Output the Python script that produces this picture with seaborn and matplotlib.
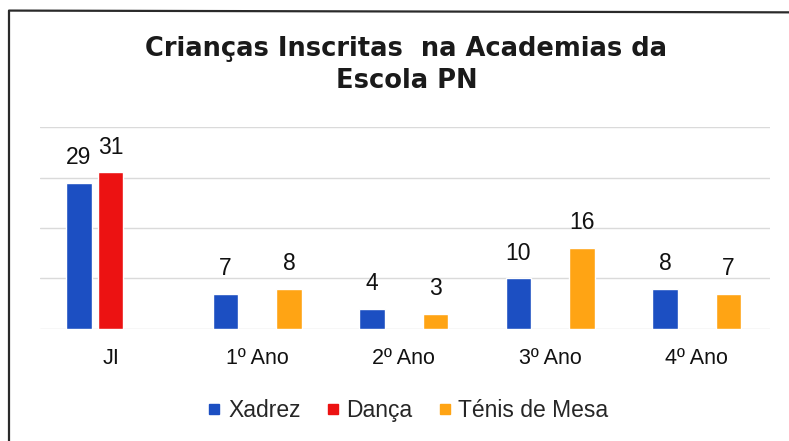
import pandas as pd
import matplotlib.pyplot as plt
import seaborn as sns
from matplotlib.lines import Line2D

sns.set_theme(style="white")
plt.rcParams['font.family'] = ['Liberation Sans', 'DejaVu Sans']

# --- data ---
anos = ['JI', '1º Ano', '2º Ano', '3º Ano', '4º Ano']
academias = ['Xadrez', 'Dança', 'Ténis de Mesa']
xadrez = [29, 7, 4, 10, 8]
danca = [31, None, None, None, None]
tenis = [None, 8, 3, 16, 7]

cores = ['#1C4FC2', '#EC1212', '#FFA414']

rows = []
for serie, vals in zip(academias, [xadrez, danca, tenis]):
    for ano, v in zip(anos, vals):
        if v is not None:
            rows.append({'ano': ano, 'academia': serie, 'n': v})
df = pd.DataFrame(rows)

fig = plt.figure(figsize=(7.89, 4.41), dpi=100)
ax = fig.add_axes([0.051, 0.254, 0.925, 0.458])

sns.barplot(data=df, x='ano', y='n', hue='academia', order=anos,
            hue_order=academias, palette=cores, width=0.65, gap=0.2,
            saturation=1, legend=False, ax=ax)

for c in ax.containers:
    ax.bar_label(c, fmt='%d', padding=10, fontsize=16.5, color='#111111')

ax.set_ylim(0, 40)
ax.set_xlim(-0.48, 4.5)
ax.set_yticks([0, 10, 20, 30, 40])
ax.yaxis.grid(True, color='#DADADA', linewidth=1)
ax.set_axisbelow(True)
ax.tick_params(axis='y', left=False, labelleft=False)
ax.tick_params(axis='x', length=0, pad=14, labelsize=15.5, colors='#111111')
ax.set_xlabel('')
ax.set_ylabel('')
for s in ax.spines.values():
    s.set_visible(False)

fig.text(0.515, 0.853, 'Crianças Inscritas  na Academias da\nEscola PN',
         ha='center', va='center', fontsize=18.5, fontweight='bold',
         family='DejaVu Sans', color='#1a1a1a', linespacing=1.28)

handles = [Line2D([], [], marker='s', linestyle='', markersize=7, color=c)
           for c in cores]
fig.legend(handles, academias, loc='center', bbox_to_anchor=(0.517, 0.07),
           ncol=3, frameon=False, fontsize=16.5, handletextpad=0.3,
           columnspacing=1.1, handlelength=0.6)

# chart frame (left and top edges visible)
fig.add_artist(Line2D([0.0114, 0.0114], [0.0, 0.976], color='#2a2a2a', lw=1.6,
                      transform=fig.transFigure))
fig.add_artist(Line2D([0.0114, 1.0], [0.976, 0.972], color='#2a2a2a', lw=1.6,
                      transform=fig.transFigure))

fig.savefig('out.png', dpi=100, facecolor='white')
